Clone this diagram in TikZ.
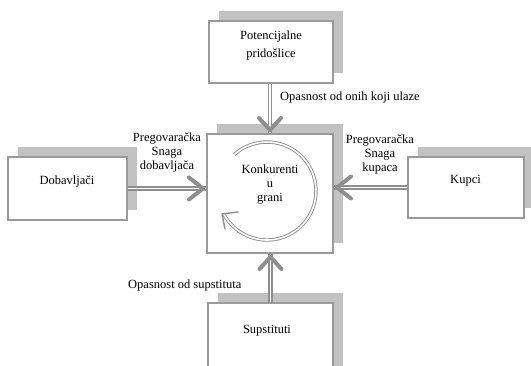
\documentclass[tikz,border=0pt]{standalone}
\usepackage{fontspec}
\setmainfont{Liberation Serif}
\newfontfamily\diagfont{Liberation Serif}
\usetikzlibrary{calc,shadows}
\definecolor{bordergray}{HTML}{9A9A9A}
\definecolor{shadowgray}{HTML}{C2C2C2}
\definecolor{arrowgray}{HTML}{8E8E8E}
\begin{document}
\begin{tikzpicture}[x=1pt,y=1pt,
  box/.style={draw=bordergray, line width=2pt, fill=white, inner sep=0pt,
    drop shadow={shadow xshift=9.5pt, shadow yshift=10pt, fill=shadowgray, opacity=1}},
  lbl/.style={font=\diagfont\fontsize{12.5}{14}\selectfont, inner sep=0pt, align=center},
  stem/.style={draw=arrowgray, line width=1.5pt, double=white, double distance=1.5pt},
  chev/.style={draw=arrowgray, line width=4pt, line cap=round, line join=round},
  circ/.style={draw=arrowgray, line width=0.9pt, double=white, double distance=1.6pt},
  circhead/.style={draw=arrowgray, line width=1.4pt, line cap=round, line join=round}]
\clip (0,0) rectangle (531,-365);
\fill[white] (0,0) rectangle (531,-365);
% boxes
\node[box, minimum width=124pt, minimum height=62pt] (pot) at (271,-52) {};
\node[box, minimum width=126pt, minimum height=119pt] (kon) at (270,-193.5) {};
\node[box, minimum width=119pt, minimum height=63pt] (dob) at (67.5,-188.5) {};
\node[box, minimum width=116pt, minimum height=61pt] (kup) at (466,-187.5) {};
\node[box, minimum width=125pt, minimum height=80pt] (sup) at (270.5,-343) {};
% box texts
\node[lbl, anchor=north, font=\diagfont\fontsize{12.5}{18}\selectfont] (tpot) at (271,-30.5) {Potencijalne\\pridošlice};
\node[lbl, anchor=north] (tkon) at (270,-165) {Konkurenti\\u\\grani};
\node[lbl, anchor=north] (tdob) at (67,-176) {Dobavljači};
\node[lbl, anchor=north] (tkup) at (465.5,-175) {Kupci};
\node[lbl, anchor=north] (tsup) at (267,-325) {Supstituti};
% arrow labels
\node[lbl, anchor=north west] (lpot) at (280,-92) {Opasnost od onih koji ulaze};
\node[lbl, anchor=north] (ldob) at (167,-133) {Pregovaračka\\Snaga\\dobavljača};
\node[lbl, anchor=north] (lkup) at (380,-135) {Pregovaračka\\Snaga\\kupaca};
\node[lbl, anchor=north west] (lsup) at (128,-280) {Opasnost od supstituta};
% end points
\coordinate (eT) at (kon.north);
\coordinate (eL) at (kon.west |- dob.east);
\coordinate (eR) at (kon.east |- kup.west);
\coordinate (eB) at (sup.north |- kon.south);
% stems
\draw[stem] (eT |- pot.south) -- (eT);
\draw[stem] (dob.east) -- (eL);
\draw[stem] (kup.west) -- (eR);
\draw[stem] (sup.north) -- (eB);
% heads
\draw[chev] ($(eT)+(-11,15)$) -- ($(eT)+(0,3)$) -- ($(eT)+(11,15)$);
\draw[chev] ($(eL)+(-17,11)$) -- ($(eL)+(-3,0)$) -- ($(eL)+(-17,-11)$);
\draw[chev] ($(eR)+(17,11)$) -- ($(eR)+(3,0)$) -- ($(eR)+(17,-11)$);
\draw[chev] ($(eB)+(-11,-15)$) -- ($(eB)+(0,-3)$) -- ($(eB)+(11,-15)$);
% circular arrow
\coordinate (cc) at ($(kon.center)+(-3,2.5)$);
\draw[circ] (cc) ++(132:49) arc[start angle=132, end angle=-152, radius=49];
\draw[circhead] ($(cc)+(-29,-21)$) -- ($(cc)+(-45,-23)$) -- ($(cc)+(-42,-38)$);
\end{tikzpicture}
\end{document}
